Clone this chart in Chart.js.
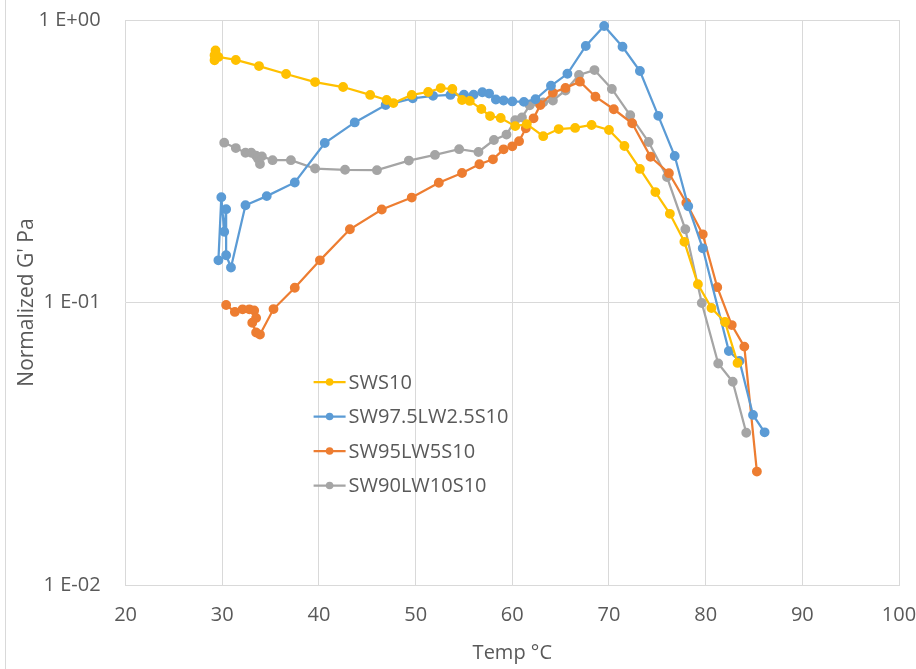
<!DOCTYPE html>
<html>
<head>
<meta charset="utf-8">
<script src="https://cdn.jsdelivr.net/npm/chart.js@4.4.0/dist/chart.umd.min.js"></script>
<style>
  body { margin: 0; background: #fff; }
  #wrap { position: relative; width: 916px; height: 669px; }
  #frame { position: absolute; left: 5px; top: 0; width: 1px; height: 669px; background: #d9d9d9; }
</style>
</head>
<body>
<div id="wrap">
  <canvas id="myChart" width="916" height="669"></canvas>
  <div id="frame"></div>
</div>
<script>
var seriesNames = ['SWS10', 'SW97.5LW2.5S10', 'SW95LW5S10', 'SW90LW10S10'];
var seriesColors = ['#FFC000', '#5B9BD5', '#ED7D31', '#A5A5A5'];

var sws10Temp = [29.3, 29.2, 29.2, 29.6, 31.4, 33.8, 36.6, 39.6, 42.5, 45.3, 47.0, 47.7, 49.6, 51.3, 52.6, 53.8, 54.8, 55.6, 56.8, 57.7, 58.8, 60.3, 61.5, 63.2, 64.8, 66.5, 68.2, 70.0, 71.6, 73.2, 74.8, 76.3, 77.8, 79.2, 80.6, 82.0, 83.3];
var sws10G = [0.78, 0.75, 0.72, 0.74, 0.722, 0.687, 0.644, 0.603, 0.579, 0.543, 0.521, 0.508, 0.543, 0.556, 0.574, 0.570, 0.521, 0.517, 0.484, 0.457, 0.450, 0.421, 0.428, 0.388, 0.411, 0.415, 0.425, 0.408, 0.358, 0.297, 0.246, 0.206, 0.164, 0.116, 0.0956, 0.0853, 0.0611];

var sw975Temp = [29.6, 29.9, 30.2, 30.4, 30.4, 30.9, 32.4, 34.6, 37.5, 40.6, 43.7, 46.9, 49.7, 51.8, 53.6, 55.0, 56.0, 56.9, 57.6, 58.3, 59.1, 60.0, 61.2, 62.4, 64.0, 65.7, 67.6, 69.5, 71.4, 73.2, 75.1, 76.8, 78.2, 79.7, 82.4, 83.5, 84.9, 86.1];
var sw975G = [0.141, 0.236, 0.178, 0.214, 0.147, 0.133, 0.221, 0.238, 0.266, 0.367, 0.434, 0.500, 0.528, 0.539, 0.543, 0.544, 0.544, 0.555, 0.549, 0.523, 0.519, 0.515, 0.513, 0.524, 0.585, 0.645, 0.809, 0.952, 0.804, 0.660, 0.458, 0.330, 0.219, 0.1555, 0.0673, 0.0621, 0.0400, 0.0347];

var sw95Temp = [30.4, 31.3, 32.1, 32.8, 33.3, 33.5, 33.1, 33.5, 33.9, 35.3, 37.5, 40.1, 43.2, 46.5, 49.6, 52.4, 54.8, 56.6, 58.0, 59.1, 60.0, 60.7, 61.4, 62.2, 62.9, 64.2, 65.5, 67.0, 68.6, 70.5, 72.4, 74.3, 76.2, 78.0, 79.7, 81.2, 82.7, 84.0, 85.3];
var sw95G = [0.098, 0.0926, 0.0946, 0.0946, 0.0937, 0.0882, 0.0848, 0.0783, 0.077, 0.0948, 0.1128, 0.141, 0.1816, 0.2134, 0.2352, 0.2654, 0.2873, 0.3085, 0.3212, 0.3485, 0.3571, 0.3724, 0.4137, 0.4487, 0.500, 0.553, 0.575, 0.605, 0.535, 0.483, 0.431, 0.328, 0.287, 0.2256, 0.1743, 0.1133, 0.0832, 0.0698, 0.0252];

var sw90Temp = [30.2, 31.4, 32.4, 33.0, 33.5, 33.7, 33.9, 34.1, 35.2, 37.1, 39.6, 42.7, 46.0, 49.3, 52.0, 54.5, 56.5, 58.1, 59.4, 60.3, 61.0, 61.8, 62.5, 63.2, 64.2, 65.5, 66.9, 68.5, 70.3, 72.2, 74.1, 76.0, 77.9, 79.6, 81.3, 82.8, 84.2];
var sw90G = [0.368, 0.352, 0.339, 0.339, 0.331, 0.323, 0.309, 0.329, 0.319, 0.319, 0.298, 0.295, 0.294, 0.318, 0.333, 0.349, 0.341, 0.376, 0.393, 0.442, 0.452, 0.499, 0.513, 0.511, 0.519, 0.563, 0.639, 0.665, 0.570, 0.460, 0.370, 0.278, 0.1816, 0.0996, 0.0608, 0.0524, 0.0346];

var xTicks = [20, 30, 40, 50, 60, 70, 80, 90, 100];
var yTicks = [0.01, 0.1, 1];
var yTickLabels = ['1 E-02', '1 E-01', '1 E+00'];

var temps = [sws10Temp, sw975Temp, sw95Temp, sw90Temp];
var values = [sws10G, sw975G, sw95G, sw90G];

function toPoints(xs, ys) {
    return xs.map(function (x, i) { return { x: x, y: ys[i] }; });
}

var fontFam = "'Open Sans', sans-serif";
var textColor = '#595959';
var gridColor = '#d9d9d9';

var datasets = seriesNames.map(function (name, i) {
    return {
        label: name,
        data: toPoints(temps[i], values[i]),
        borderColor: seriesColors[i],
        backgroundColor: seriesColors[i],
        showLine: true,
        borderWidth: 2.25,
        pointRadius: 3.8,
        pointHoverRadius: 3.8,
        tension: 0
    };
});

// legend drawn inside the plot area, like the Excel original
var innerLegend = {
    id: 'innerLegend',
    afterDatasetsDraw: function (chart) {
        var ctx = chart.ctx;
        var a = chart.chartArea;
        var x0 = a.left + 188, y0 = a.top + 362, gap = 34.5;
        ctx.save();
        ctx.font = '20px ' + fontFam;
        ctx.textBaseline = 'middle';
        seriesNames.forEach(function (name, i) {
            var y = y0 + i * gap;
            ctx.strokeStyle = seriesColors[i];
            ctx.fillStyle = seriesColors[i];
            ctx.lineWidth = 2.25;
            ctx.beginPath();
            ctx.moveTo(x0, y);
            ctx.lineTo(x0 + 32, y);
            ctx.stroke();
            ctx.beginPath();
            ctx.arc(x0 + 16, y, 3.8, 0, Math.PI * 2);
            ctx.fill();
            ctx.fillStyle = textColor;
            ctx.fillText(name, x0 + 35, y + 1);
        });
        ctx.restore();
    }
};

new Chart("myChart", {
    type: "scatter",
    data: { datasets: datasets },
    plugins: [innerLegend],
    options: {
        responsive: false,
        animation: false,
        layout: { padding: { left: 0, top: 20, right: 17, bottom: 0 } },
        plugins: {
            legend: { display: false },
            tooltip: { enabled: false }
        },
        scales: {
            x: {
                type: 'linear',
                min: 20,
                max: 100,
                afterBuildTicks: function (s) { s.ticks = xTicks.map(function (v) { return { value: v }; }); },
                afterFit: function (s) { s.height = 84; s.paddingLeft = 0; s.paddingRight = 0; },
                grid: { color: gridColor, drawTicks: false, lineWidth: 1 },
                border: { color: gridColor },
                ticks: { color: textColor, font: { family: fontFam, size: 20 }, padding: 18, maxRotation: 0 },
                title: { display: true, text: 'Temp °C', color: textColor, font: { family: fontFam, size: 20 }, padding: { top: 6 } }
            },
            y: {
                type: 'logarithmic',
                min: 0.01,
                max: 1,
                afterBuildTicks: function (s) { s.ticks = yTicks.map(function (v) { return { value: v }; }); },
                afterFit: function (s) { s.width = 125.6; s.paddingTop = 0; s.paddingBottom = 0; },
                grid: { color: gridColor, drawTicks: false, lineWidth: 1 },
                border: { display: false },
                ticks: {
                    color: textColor,
                    font: { family: fontFam, size: 20 },
                    padding: 25,
                    callback: function (v) { return yTickLabels[yTicks.indexOf(v)]; }
                },
                title: { display: true, text: "Normalized G' Pa", color: textColor, font: { family: fontFam, size: 21 }, padding: { top: 14, bottom: 0 } }
            }
        }
    }
});
</script>
</body>
</html>
